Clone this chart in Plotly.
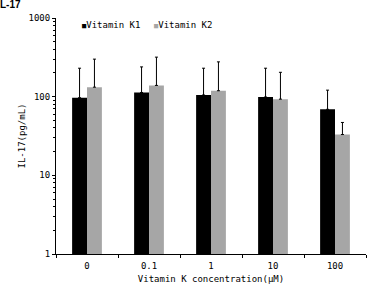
import plotly.graph_objects as go

categories = ["0", "0.1", "1", "10", "100"]
k1_mean = [97, 113, 105, 99, 69]
k1_err = [133, 126, 125, 131, 52]
k2_mean = [132, 139, 119, 93, 33]
k2_err = [168, 179, 158, 111, 14]
series_names = ["Vitamin K1", "Vitamin K2"]
series_colors = ["#000000", "#a6a6a6"]

mono = "DejaVu Sans Mono"

fig = go.Figure()
for name, color, mean, err in zip(series_names, series_colors,
                                  [k1_mean, k2_mean], [k1_err, k2_err]):
    fig.add_trace(go.Bar(
        x=categories, y=mean, name=name,
        marker=dict(color=color, line=dict(width=0)),
        error_y=dict(type="data", symmetric=False, array=err,
                     arrayminus=[0] * len(err), color="#000000",
                     thickness=1, width=1.5),
    ))

# legend drawn as text, like the reference's small square markers
for name, color, xpos in zip(series_names, series_colors, [0.077, 0.31]):
    fig.add_annotation(
        xref="paper", yref="paper", x=xpos, y=0.97,
        xanchor="left", yanchor="middle", showarrow=False,
        text=f'<span style="color:{color};font-size:7px">■</span>{name}',
        font=dict(family=mono, size=9, color="black"),
    )

fig.update_layout(
    width=368, height=284,
    margin=dict(l=56, r=2, t=18, b=30),
    paper_bgcolor="white", plot_bgcolor="white",
    barmode="group", bargap=0.52, bargroupgap=0,
    font=dict(family=mono, size=9, color="black"),
    title=dict(text="<b>L-17</b>", x=0.0, xanchor="left", xref="container",
               y=0.995, yanchor="top", yref="container",
               font=dict(family="Liberation Sans", size=10)),
    showlegend=False,
)
fig.update_xaxes(
    type="category", showline=True, linecolor="black", linewidth=1,
    ticks="outside", ticklen=3, tickcolor="black", tickson="boundaries",
    ticklabelstandoff=3,
    showgrid=False, zeroline=False,
    title=dict(text="Vitamin K concentration(μM)", standoff=6,
               font=dict(family=mono, size=9)),
)
fig.update_yaxes(
    type="log", range=[0, 3], showline=True, linecolor="black", linewidth=1,
    ticks="outside", ticklen=3, tickcolor="black",
    tickvals=[1, 10, 100, 1000], ticktext=["1", "10", "100", "1000"],
    minor=dict(ticks="outside", ticklen=2, tickcolor="black",
               tickvals=[v * d for d in [1, 10, 100] for v in range(2, 10)]),
    showgrid=False, zeroline=False,
    title=dict(text="IL-17(pg/mL)", standoff=1, font=dict(family=mono, size=9)),
)

fig.write_html("out.html")
